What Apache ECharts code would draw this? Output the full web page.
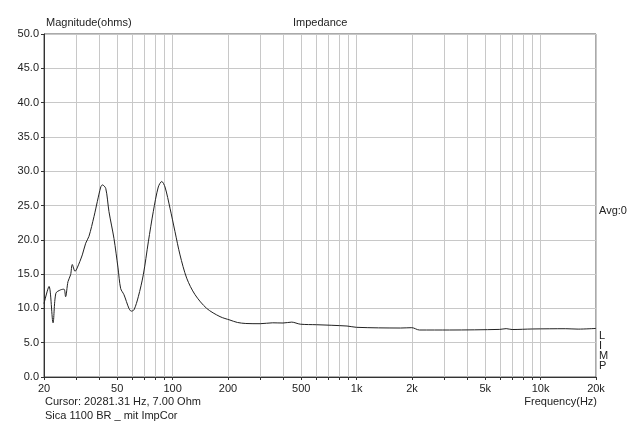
<!DOCTYPE html>
<html><head><meta charset="utf-8">
<script src="https://cdn.jsdelivr.net/npm/echarts@6/dist/echarts.min.js"></script>
<style>html,body{margin:0;padding:0;background:#fff}#c{width:640px;height:424px}</style>
</head><body><div id="c"></div>
<script>
const freqHz = [20, 21.3, 22.4, 23.2, 24.6, 25.7, 26.2, 27.0, 27.9, 28.5, 29.5, 30.3, 32.3, 33.7, 35.1, 37.4, 39.0, 40.7, 41.5, 43.3, 45.1, 48.0, 50.5, 52.2, 54.4, 57.9, 59.6, 61.7, 65.1, 69.3, 73.8, 78.5, 83.6, 87.3, 90.9, 96.8, 103.0, 109.7, 119.3, 132.4, 153.2, 181, 205, 225, 250, 299, 350, 398, 444, 494, 607, 887, 1000, 1732, 1995, 2195, 3200, 6000, 6500, 7000, 9054, 13700, 16000, 20000];
const magnitudeOhms = [10.7, 13.2, 7.9, 12.2, 12.7, 12.8, 11.7, 13.9, 14.9, 16.4, 15.4, 15.9, 17.8, 19.5, 20.5, 23.4, 25.6, 27.7, 28.0, 27.5, 24.1, 20.2, 15.9, 12.9, 12.0, 10.0, 9.6, 9.8, 11.7, 14.9, 19.7, 24.1, 27.7, 28.5, 27.7, 24.6, 21.2, 17.8, 14.4, 12.0, 10.0, 8.8, 8.3, 7.95, 7.8, 7.77, 7.9, 7.87, 8.0, 7.7, 7.62, 7.43, 7.24, 7.14, 7.19, 6.85, 6.85, 6.94, 7.05, 6.92, 7.0, 7.04, 6.98, 7.08];
const gridFreqs = [20,30,40,50,60,70,80,90,100,200,300,400,500,600,700,800,900,1000,2000,3000,4000,5000,6000,7000,8000,9000,10000,20000];
const labelFreqs = [20,50,100,200,500,1000,2000,5000,10000,20000];
const yTicks = {min: 0, max: 50, step: 5};

const FONT = 'Liberation Sans, Arial, sans-serif';
const chart = echarts.init(document.getElementById('c'));
chart.setOption({
  animation: false,
  backgroundColor: '#fff',
  textStyle: {fontFamily: FONT},
  grid: {left: 44, right: 44, top: 34, bottom: 47, show: true, borderColor: '#555', borderWidth: 1},
  xAxis: {
    type: 'log', min: 20, max: 20000, logBase: 10,
    axisLine: {show: true, lineStyle: {color: '#333'}},
    axisTick: {show: true, customValues: gridFreqs, length: 3, lineStyle: {color: '#333'}},
    axisLabel: {customValues: labelFreqs, color: '#222', fontSize: 11, fontFamily: FONT, margin: 6,
      formatter: v => v >= 1000 ? (v / 1000) + 'k' : String(v)},
    splitLine: {show: true, lineStyle: {color: '#c8c8c8', width: 1}},
    minorTick: {show: false}, minorSplitLine: {show: false}
  },
  yAxis: {
    type: 'value', min: yTicks.min, max: yTicks.max, interval: yTicks.step,
    axisLine: {show: true, lineStyle: {color: '#333'}},
    axisTick: {show: true, length: 3, lineStyle: {color: '#333'}},
    axisLabel: {color: '#222', fontSize: 11, fontFamily: FONT, margin: 5, formatter: v => v.toFixed(1)},
    splitLine: {show: true, lineStyle: {color: '#c8c8c8', width: 1}}
  },
  series: [{
    type: 'line', data: freqHz.map((f, i) => [f, magnitudeOhms[i]]),
    showSymbol: false, smooth: 0.3,
    lineStyle: {color: '#222', width: 1}
  }],
  graphic: [
    {type: 'text', left: 46, top: 17, style: {text: 'Magnitude(ohms)', font: '11px ' + FONT, fill: '#222'}},
    {type: 'text', left: 293, top: 17, style: {text: 'Impedance', font: '11px ' + FONT, fill: '#222'}},
    {type: 'text', left: 599, top: 205, style: {text: 'Avg:0', font: '11px ' + FONT, fill: '#222'}},
    {type: 'text', left: 599, top: 330, style: {text: 'L\nI\nM\nP', font: '11px ' + FONT, fill: '#222', lineHeight: 10}},
    {type: 'text', left: 45, top: 396, style: {text: 'Cursor: 20281.31 Hz, 7.00 Ohm', font: '11px ' + FONT, fill: '#222'}},
    {type: 'text', left: 45, top: 410, style: {text: 'Sica 1100 BR _ mit ImpCor', font: '11px ' + FONT, fill: '#222'}},
    {type: 'text', right: 43, top: 396, style: {text: 'Frequency(Hz)', font: '11px ' + FONT, fill: '#222'}}
  ]
});
</script></body></html>
